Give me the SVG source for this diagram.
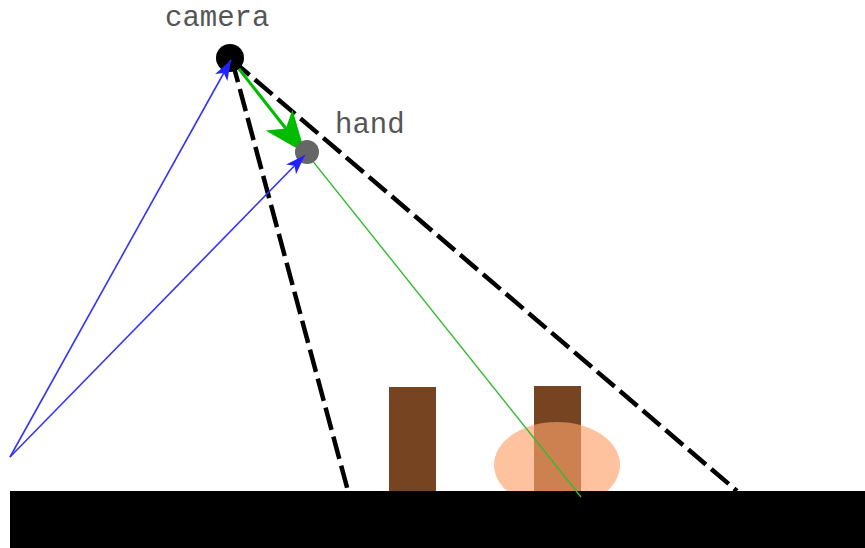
<svg xmlns="http://www.w3.org/2000/svg" width="865" height="548" viewBox="0 0 865 548">
<style>
.lbl{font-family:"Liberation Mono","Courier New",monospace;font-size:29px;fill:#555}
.dash{stroke:#000;stroke-width:4.5;stroke-dasharray:23,7;fill:none}
.blue{stroke:#3333ff;stroke-width:1.6;fill:none}
</style>
<defs>
<marker id="ab" viewBox="0 0 20 14" refX="20" refY="7" markerWidth="20" markerHeight="14" markerUnits="userSpaceOnUse" orient="auto">
<path d="M0,0 L20,7 L0,14 L5,7 Z" fill="#2222ff"/>
</marker>
<marker id="ag" viewBox="0 0 42 34" refX="42" refY="17" markerWidth="42" markerHeight="34" markerUnits="userSpaceOnUse" orient="auto">
<path d="M0,0 L42,17 L0,34 L11,17 Z" fill="#00bb00"/>
</marker>
</defs>
<g id="scene">
<rect id="block1" x="389" y="387" width="47" height="104" fill="#774422"/>
<rect id="block2" x="534" y="386" width="47" height="105" fill="#774422"/>
<ellipse id="zone" cx="557" cy="465" rx="63" ry="43" fill="#fda36a" opacity="0.65"/>
<rect id="ground" x="10" y="491" width="855" height="57" fill="#000"/>
</g>
<g id="connectors">
<line class="dash" x1="232" y1="60" x2="348" y2="491"/>
<line class="dash" x1="232" y1="60" x2="737" y2="491"/>
<line x1="232" y1="60" x2="581" y2="497" stroke="#33bb33" stroke-width="1.4"/>
<line x1="232" y1="60" x2="305" y2="153" stroke="#00bb00" stroke-width="3" marker-end="url(#ag)"/>
</g>
<g id="camera">
<circle cx="230" cy="58" r="14" fill="#000"/>
<text class="lbl" x="165" y="26">camera</text>
</g>
<g id="hand">
<circle cx="307" cy="152" r="12" fill="#666"/>
<text class="lbl" x="335" y="133">hand</text>
</g>
<g id="blue-connectors">
<line class="blue" x1="10" y1="457" x2="231" y2="60" marker-end="url(#ab)"/>
<line class="blue" x1="10" y1="457" x2="305" y2="155" marker-end="url(#ab)"/>
</g>
</svg>
